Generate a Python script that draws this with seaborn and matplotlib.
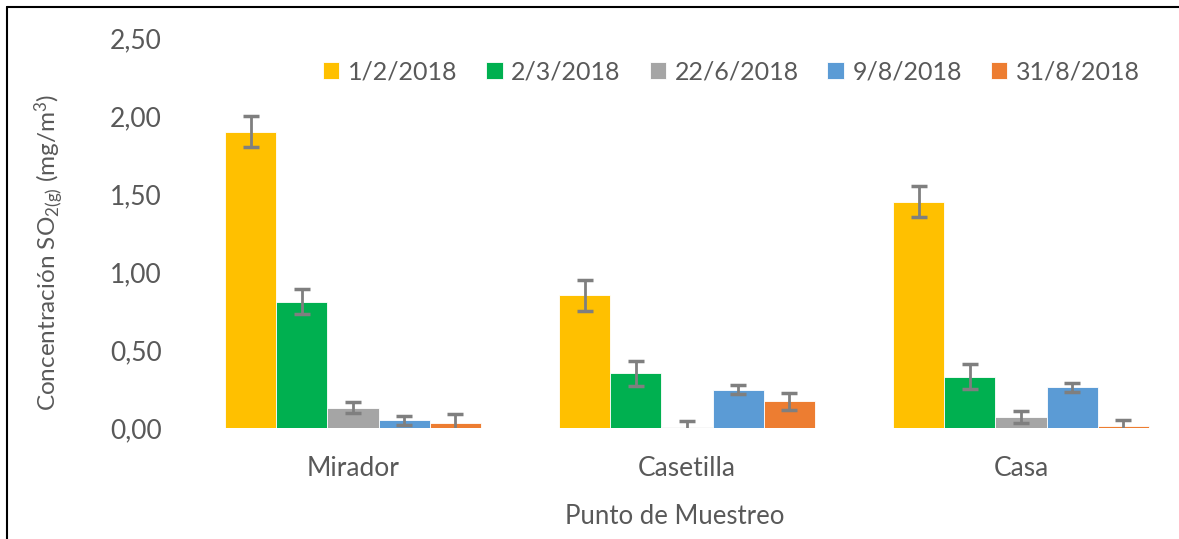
import numpy as np
import pandas as pd
import matplotlib
matplotlib.use("Agg")
import matplotlib.pyplot as plt
from matplotlib.lines import Line2D
import seaborn as sns

# ---- data ----
puntos = ["Mirador", "Casetilla", "Casa"]
fechas = ["1/2/2018", "2/3/2018", "22/6/2018", "9/8/2018", "31/8/2018"]
colores = ["#FFC000", "#00B050", "#A5A5A5", "#5B9BD5", "#ED7D31"]

# concentracion SO2 por fecha (orden: Mirador, Casetilla, Casa)
conc_0102 = [1.90, 0.85, 1.45]
conc_0203 = [0.81, 0.35, 0.33]
conc_2206 = [0.13, 0.005, 0.07]
conc_0908 = [0.05, 0.245, 0.26]
conc_3108 = [0.035, 0.17, 0.01]

# desviacion (barras de error)
err_0102 = [0.10, 0.10, 0.10]
err_0203 = [0.08, 0.08, 0.08]
err_2206 = [0.035, 0.04, 0.04]
err_0908 = [0.03, 0.03, 0.03]
err_3108 = [0.055, 0.055, 0.04]

valores = [conc_0102, conc_0203, conc_2206, conc_0908, conc_3108]
errores = [err_0102, err_0203, err_2206, err_0908, err_3108]

rows = []
for f, vals, errs in zip(fechas, valores, errores):
    for p, v, e in zip(puntos, vals, errs):
        rows.append({"Punto": p, "Fecha": f, "Conc": v, "Err": e})
df = pd.DataFrame(rows)

# ---- figure ----
sns.set_style("white")
plt.rcParams["font.family"] = ["Lato", "DejaVu Sans"]
plt.rcParams["mathtext.default"] = "regular"
TXT = "#595959"

W, H = 1179, 539
fig = plt.figure(figsize=(W / 100, H / 100), dpi=100)
ax = fig.add_axes([180 / W, 1 - 428 / H, 990 / W, 390 / H])

sns.barplot(data=df, x="Punto", y="Conc", hue="Fecha", order=puntos,
            hue_order=fechas, palette=colores, saturation=1, errorbar=None,
            width=0.765, edgecolor="white", linewidth=0.6, ax=ax)

# error bars at the centre of each bar
for patch_group, f in zip(ax.containers, fechas):
    sub = df[df["Fecha"] == f].set_index("Punto").loc[puntos]
    xs = [b.get_x() + b.get_width() / 2 for b in patch_group]
    ax.errorbar(xs, sub["Conc"].values, yerr=sub["Err"].values, fmt="none",
                ecolor="#7F7F7F", elinewidth=2, capsize=6, capthick=2.5, zorder=5)

ax.set_xlim(-0.518, 2.446)
ax.set_ylim(0, 2.5)
ax.set_yticks(np.arange(0, 2.51, 0.5))
ax.set_yticklabels([f"{t:.2f}".replace(".", ",") for t in np.arange(0, 2.51, 0.5)])
sns.despine(ax=ax, left=True, bottom=True)
ax.tick_params(axis="both", length=0, labelsize=19, labelcolor=TXT)
ax.tick_params(axis="y", pad=13)
ax.tick_params(axis="x", pad=20)

ax.set_xlabel("Punto de Muestreo", fontsize=18.5, color=TXT, labelpad=17)
ax.set_ylabel(r"Concentración SO$_{2(g)}$ (mg/m$^3$)", fontsize=17.5, color=TXT)
ax.yaxis.set_label_coords(-0.115, 0.451)

leg = ax.legend(loc="upper center", bbox_to_anchor=(0.557, 1.0), ncol=5, frameon=False,
                fontsize=18, handlelength=0.65, handleheight=0.65, handletextpad=0.35,
                columnspacing=1.15, labelcolor=TXT)

# border lines (top and left)
fig.add_artist(Line2D([7 / W, 7 / W], [0, 1 - 7 / H], color="black", lw=1.5,
                      transform=fig.transFigure))
fig.add_artist(Line2D([7 / W, 1], [1 - 7 / H, 1 - 7 / H], color="black", lw=1.5,
                      transform=fig.transFigure))

fig.savefig("out.png", dpi=100, facecolor="white")
